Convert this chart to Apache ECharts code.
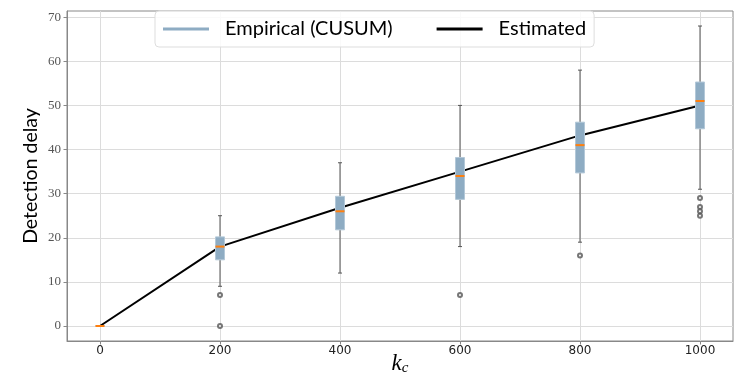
<!DOCTYPE html>
<html>
<head>
<meta charset="utf-8">
<script src="https://cdn.jsdelivr.net/npm/echarts@6/dist/echarts.min.js"></script>
<style>
  html, body { margin: 0; padding: 0; background: #fff; }
  #chart { width: 748px; height: 383px; }
</style>
</head>
<body>
<div id="chart"></div>
<script>
// k_c positions
const positions = [0, 200, 400, 600, 800, 1000];
// box stats per position: low whisker, Q1, median, Q3, high whisker
const whiskerLow = [0, 9, 12, 18, 19, 31];
const q1 = [0, 15, 21.8, 28.7, 34.7, 44.7];
const median = [0, 18, 26, 34, 41, 51];
const q3 = [0, 20.2, 29.4, 38.2, 46.2, 55.3];
const whiskerHigh = [0, 25, 37, 50, 58, 68];
// outliers
const outlierX = [200, 200, 600, 800, 1000, 1000, 1000, 1000];
const outlierY = [7, 0, 7, 16, 29, 27, 26, 25];
// estimated curve
const estimated = [0, 18, 26.8, 35, 43.2, 50];

const xTicks = [0, 200, 400, 600, 800, 1000];
const yTicks = [0, 10, 20, 30, 40, 50, 60, 70];

const boxData = positions.map((x, i) => [x, whiskerLow[i], q1[i], median[i], q3[i], whiskerHigh[i]]);
const lineData = positions.map((x, i) => [x, estimated[i]]);
const outlierData = outlierX.map((x, i) => [x, outlierY[i]]);

const boxColor = '#8eacc3';

function renderBox(params, api) {
  const x = api.value(0);
  const lo = api.coord([x, api.value(1)]);
  const b1 = api.coord([x, api.value(2)]);
  const md = api.coord([x, api.value(3)]);
  const b3 = api.coord([x, api.value(4)]);
  const hi = api.coord([x, api.value(5)]);
  const hw = 4.5, cw = 2;
  const wStyle = { stroke: '#555', lineWidth: 1 };
  return {
    type: 'group',
    children: [
      { type: 'line', shape: { x1: lo[0], y1: lo[1], x2: b1[0], y2: b1[1] }, style: wStyle },
      { type: 'line', shape: { x1: b3[0], y1: b3[1], x2: hi[0], y2: hi[1] }, style: wStyle },
      { type: 'line', shape: { x1: lo[0] - cw, y1: lo[1], x2: lo[0] + cw, y2: lo[1] }, style: wStyle },
      { type: 'line', shape: { x1: hi[0] - cw, y1: hi[1], x2: hi[0] + cw, y2: hi[1] }, style: wStyle },
      { type: 'rect', shape: { x: b3[0] - hw, y: b3[1], width: hw * 2, height: b1[1] - b3[1] },
        style: { fill: boxColor, stroke: '#b3c8d8', lineWidth: 1 } },
      { type: 'line', shape: { x1: md[0] - hw, y1: md[1], x2: md[0] + hw, y2: md[1] },
        style: { stroke: '#ff7f0e', lineWidth: 2 } }
    ]
  };
}

const chart = echarts.init(document.getElementById('chart'));
const option = {
  animation: false,
  grid: {
    left: 67, right: 15, top: 11, bottom: 42,
    outerBoundsMode: 'none', containLabel: false,
    show: true, borderColor: '#888', borderWidth: 1
  },
  legend: {
    left: 155, top: 11,
    data: [
      { name: 'Empirical (CUSUM)', icon: 'rect', itemStyle: { color: boxColor } },
      { name: 'Estimated', icon: 'rect', itemStyle: { color: '#000' } }
    ],
    itemWidth: 46, itemHeight: 3, itemGap: 44,
    padding: [8, 8],
    backgroundColor: 'rgba(255,255,255,0.85)',
    borderColor: '#ddd', borderWidth: 1, borderRadius: 4,
    textStyle: { fontFamily: 'Lato', fontSize: 20, color: '#000', padding: [0, 0, 0, 11] }
  },
  xAxis: {
    type: 'value', min: -55, max: 1055,
    name: '{k|k}{c|c}', nameLocation: 'middle', nameGap: 10, nameMoveOverlap: false,
    nameTextStyle: {
      rich: {
        k: { fontFamily: 'Liberation Serif', fontStyle: 'italic', fontSize: 23, color: '#000' },
        c: { fontFamily: 'Liberation Serif', fontStyle: 'italic', fontSize: 15, color: '#000', padding: [10, 0, 0, 0] }
      }
    },
    axisLine: { show: true, onZero: false, lineStyle: { color: '#888' } },
    axisTick: { show: true, customValues: xTicks, length: 3.5, lineStyle: { color: '#888' } },
    axisLabel: {
      customValues: xTicks, formatter: v => String(v),
      fontFamily: 'DejaVu Sans', fontSize: 12, color: '#222', margin: 4
    },
    splitLine: { show: true, lineStyle: { color: '#dcdcdc', width: 1 } }
  },
  yAxis: {
    type: 'value', min: -3.4, max: 71.4,
    name: 'Detection delay', nameLocation: 'middle', nameGap: 26, nameMoveOverlap: false,
    nameTextStyle: { fontFamily: 'Lato', fontSize: 19.5, color: '#000' },
    axisLine: { show: true, onZero: false, lineStyle: { color: '#888' } },
    axisTick: { show: true, customValues: yTicks, length: 3.5, lineStyle: { color: '#888' } },
    axisLabel: { customValues: yTicks, fontFamily: 'Liberation Serif', fontSize: 13, color: '#555', margin: 6 },
    splitLine: { show: true, lineStyle: { color: '#dcdcdc', width: 1 } }
  },
  series: [
    {
      name: 'Estimated', type: 'line', data: lineData, symbol: 'none', z: 2,
      lineStyle: { color: '#000', width: 2 }, itemStyle: { color: '#000' }
    },
    {
      name: 'Empirical (CUSUM)', type: 'custom', data: boxData, renderItem: renderBox, z: 3,
      encode: { x: 0, y: [1, 2, 3, 4, 5] }, itemStyle: { color: boxColor }
    },
    {
      name: 'outliers', type: 'scatter', data: outlierData, z: 4,
      symbol: 'emptyCircle', symbolSize: 4,
      itemStyle: { color: '#555', borderWidth: 0.8 }
    }
  ]
};
chart.setOption(option);
</script>
</body>
</html>
